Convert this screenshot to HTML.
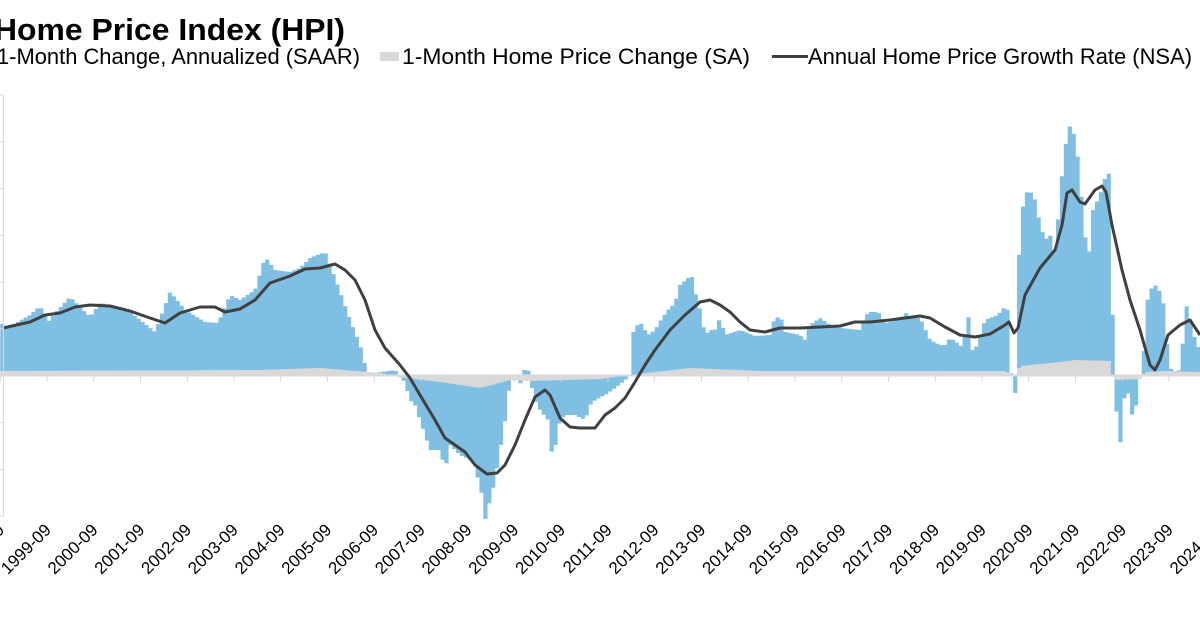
<!DOCTYPE html>
<html><head><meta charset="utf-8"><style>
html,body{margin:0;padding:0;background:#fff;}
body{width:1200px;height:630px;overflow:hidden;position:relative;font-family:"Liberation Sans",Arial,sans-serif;}
</style></head><body>
<svg id="c" width="1200" height="630" xmlns="http://www.w3.org/2000/svg" style="position:absolute;left:0;top:0">
<text x="-6" y="40" font-size="31" font-weight="bold" font-family="Liberation Sans, sans-serif" fill="#000" textLength="351" lengthAdjust="spacingAndGlyphs">Home Price Index (HPI)</text>
<text x="-3" y="64" font-size="22" font-family="Liberation Sans, sans-serif" fill="#000" textLength="363" lengthAdjust="spacingAndGlyphs">1-Month Change, Annualized (SAAR)</text>
<rect x="380" y="52" width="19" height="9" fill="#d9d9d9"/>
<text x="402" y="64" font-size="22" font-family="Liberation Sans, sans-serif" fill="#000" textLength="348" lengthAdjust="spacingAndGlyphs">1-Month Home Price Change (SA)</text>
<line x1="772" y1="56.5" x2="808" y2="56.5" stroke="#404040" stroke-width="3"/>
<text x="808" y="64" font-size="22" font-family="Liberation Sans, sans-serif" fill="#000" textLength="384" lengthAdjust="spacingAndGlyphs">Annual Home Price Growth Rate (NSA)</text>
<g id="bars"></g>
<g id="axes"></g>
</svg>
<script>
function interp(pts,x){if(x<=pts[0][0])return pts[0][1];for(var i=1;i<pts.length;i++){if(x<=pts[i][0]){var a=pts[i-1],b=pts[i];return a[1]+(b[1]-a[1])*(x-a[0])/(b[0]-a[0]);}}return pts[pts.length-1][1];}
var bp=[[0,320],[5,329],[30,315],[40,306],[48,322],[55,313],[70,297],[90,317],[100,303],[125,308],[140,320],[155,332],[170,292],[185,310],[205,322],[218,323],[230,295],[240,300],[255,290],[265,257],[275,270],[290,272],[300,268],[310,258],[325,252],[330,265],[340,292],[350,320],[360,345],[367,373],[375,373],[395,370],[400,378],[403,380],[405,383],[410,400],[415,405],[420,420],[425,435],[430,450],[440,450],[445,470],[450,445],[460,455],[470,460],[475,465],[478,480],[482,495],[485,520],[490,500],[495,480],[500,450],[505,420],[510,380],[515,378],[520,385],[523,370],[528,370],[530,380],[535,400],[540,410],[548,420],[553,465],[556,440],[560,420],[565,415],[575,415],[585,420],[590,405],[595,400],[605,395],[615,388],[625,380],[630,375],[632,335],[635,328],[640,322],[648,335],[655,330],[662,318],[668,310],[675,303],[680,285],[688,278],[692,277],[695,292],[700,310],[705,335],[710,330],[715,330],[720,318],[725,335],[740,330],[755,336],[770,335],[775,316],[782,320],[785,332],[800,335],[805,340],[810,325],[820,318],[830,325],[840,328],[860,330],[868,312],[878,312],[885,323],[900,320],[905,312],[910,318],[920,318],[930,340],[940,345],[945,345],[950,338],[960,345],[963,350],[965,330],[968,310],[970,350],[975,350],[985,320],[990,318],[998,315],[1003,308],[1008,310],[1010,360],[1013,393],[1016,393],[1017,285],[1022,210],[1028,188],[1035,200],[1040,225],[1045,240],[1050,235],[1055,255],[1060,195],[1063,165],[1066,142],[1070,125],[1074,135],[1078,160],[1083,215],[1087,255],[1090,250],[1093,210],[1100,195],[1105,178],[1110,172],[1112,255],[1113,372],[1115,380],[1117,425],[1120,447],[1123,400],[1128,393],[1133,420],[1136,405],[1139,380],[1143,372],[1145,310],[1150,290],[1155,285],[1160,292],[1165,310],[1168,360],[1172,372],[1180,370],[1183,340],[1187,302],[1192,330],[1197,345],[1200,350]];
var gp=[[0,371],[260,370],[320,368],[380,373],[400,377],[440,382],[480,388],[510,380],[530,381],[600,379],[630,375],[690,368],[760,371],[900,371],[1005,371],[1015,376],[1020,366],[1060,362],[1075,360],[1110,361],[1113,380],[1140,379],[1145,372],[1165,371],[1200,372]];
var lp=[[3,328],[30,322],[45,315],[60,313],[75,307],[90,305],[110,306],[130,311],[150,318],[165,323],[180,313],[200,307],[215,307],[225,312],[240,309],[255,300],[270,283],[290,276],[305,269],[320,268],[335,264],[345,270],[355,280],[365,300],[375,330],[385,348],[400,365],[410,378],[420,395],[435,420],[445,438],[455,445],[465,452],[475,465],[487,474],[497,473],[505,465],[515,445],[525,420],[535,397],[545,390],[550,395],[560,418],[570,427],[580,428],[595,428],[605,415],[615,408],[625,398],[635,382],[645,365],[655,350],[670,330],[685,315],[700,302],[710,300],[720,305],[730,312],[740,322],[750,330],[765,332],[780,328],[800,328],[820,327],[840,326],[855,322],[870,322],[890,320],[905,318],[920,316],[930,318],[945,327],[960,335],[975,337],[990,334],[1005,325],[1009,322],[1014,333],[1018,328],[1025,295],[1040,268],[1055,250],[1062,225],[1067,193],[1072,190],[1080,202],[1085,204],[1095,190],[1102,186],[1106,192],[1112,225],[1122,270],[1130,300],[1140,330],[1150,365],[1155,370],[1160,360],[1168,335],[1180,325],[1190,320],[1200,335]];
var Z=375.5,step=46.75/12,g=document.getElementById("bars"),s="";
for(var x=0.25;x<1200;x+=step){var c=x+step/2;var t=interp(bp,c);var y0=Math.min(t,Z),h=Math.abs(t-Z);
s+='<rect x="'+x.toFixed(2)+'" y="'+y0.toFixed(2)+'" width="'+(step+0.3).toFixed(2)+'" height="'+h.toFixed(2)+'" fill="#7fbfe3"/>';}
for(var x=0.25;x<1200;x+=step){var c=x+step/2;var t=interp(gp,c);var y0=Math.min(t,Z),h=Math.abs(t-Z);
s+='<rect x="'+x.toFixed(2)+'" y="'+y0.toFixed(2)+'" width="'+(step+0.3).toFixed(2)+'" height="'+h.toFixed(2)+'" fill="#d9d9d9"/>';}
s+='<line x1="0" y1="'+Z+'" x2="1200" y2="'+Z+'" stroke="#d9d9d9" stroke-width="2"/>';
var d="M"+lp.map(function(p){return p[0]+","+p[1]}).join(" L");
s+='<path d="'+d+'" fill="none" stroke="#404040" stroke-width="3" stroke-linejoin="round"/>';
g.innerHTML=s;
var a="";
a+='<line x1="3.5" y1="95" x2="3.5" y2="516" stroke="#d9d9d9" stroke-width="1"/>';
for(var i=0;i<10;i++){var yy=95+i*46.8;a+='<line x1="0" y1="'+yy+'" x2="3.5" y2="'+yy+'" stroke="#d9d9d9"/>';}
for(var yr=1998;yr<=2024;yr++){var tx=0.25+(yr-1998)*46.75;
a+='<line x1="'+tx+'" y1="376" x2="'+tx+'" y2="382" stroke="#d9d9d9"/>';
a+='<text transform="translate('+(tx+5)+',531) rotate(-45)" text-anchor="end" font-size="17" font-family="Liberation Sans, sans-serif" fill="#000">'+yr+'-09</text>';}
document.getElementById("axes").innerHTML=a;
</script>
</body></html>
